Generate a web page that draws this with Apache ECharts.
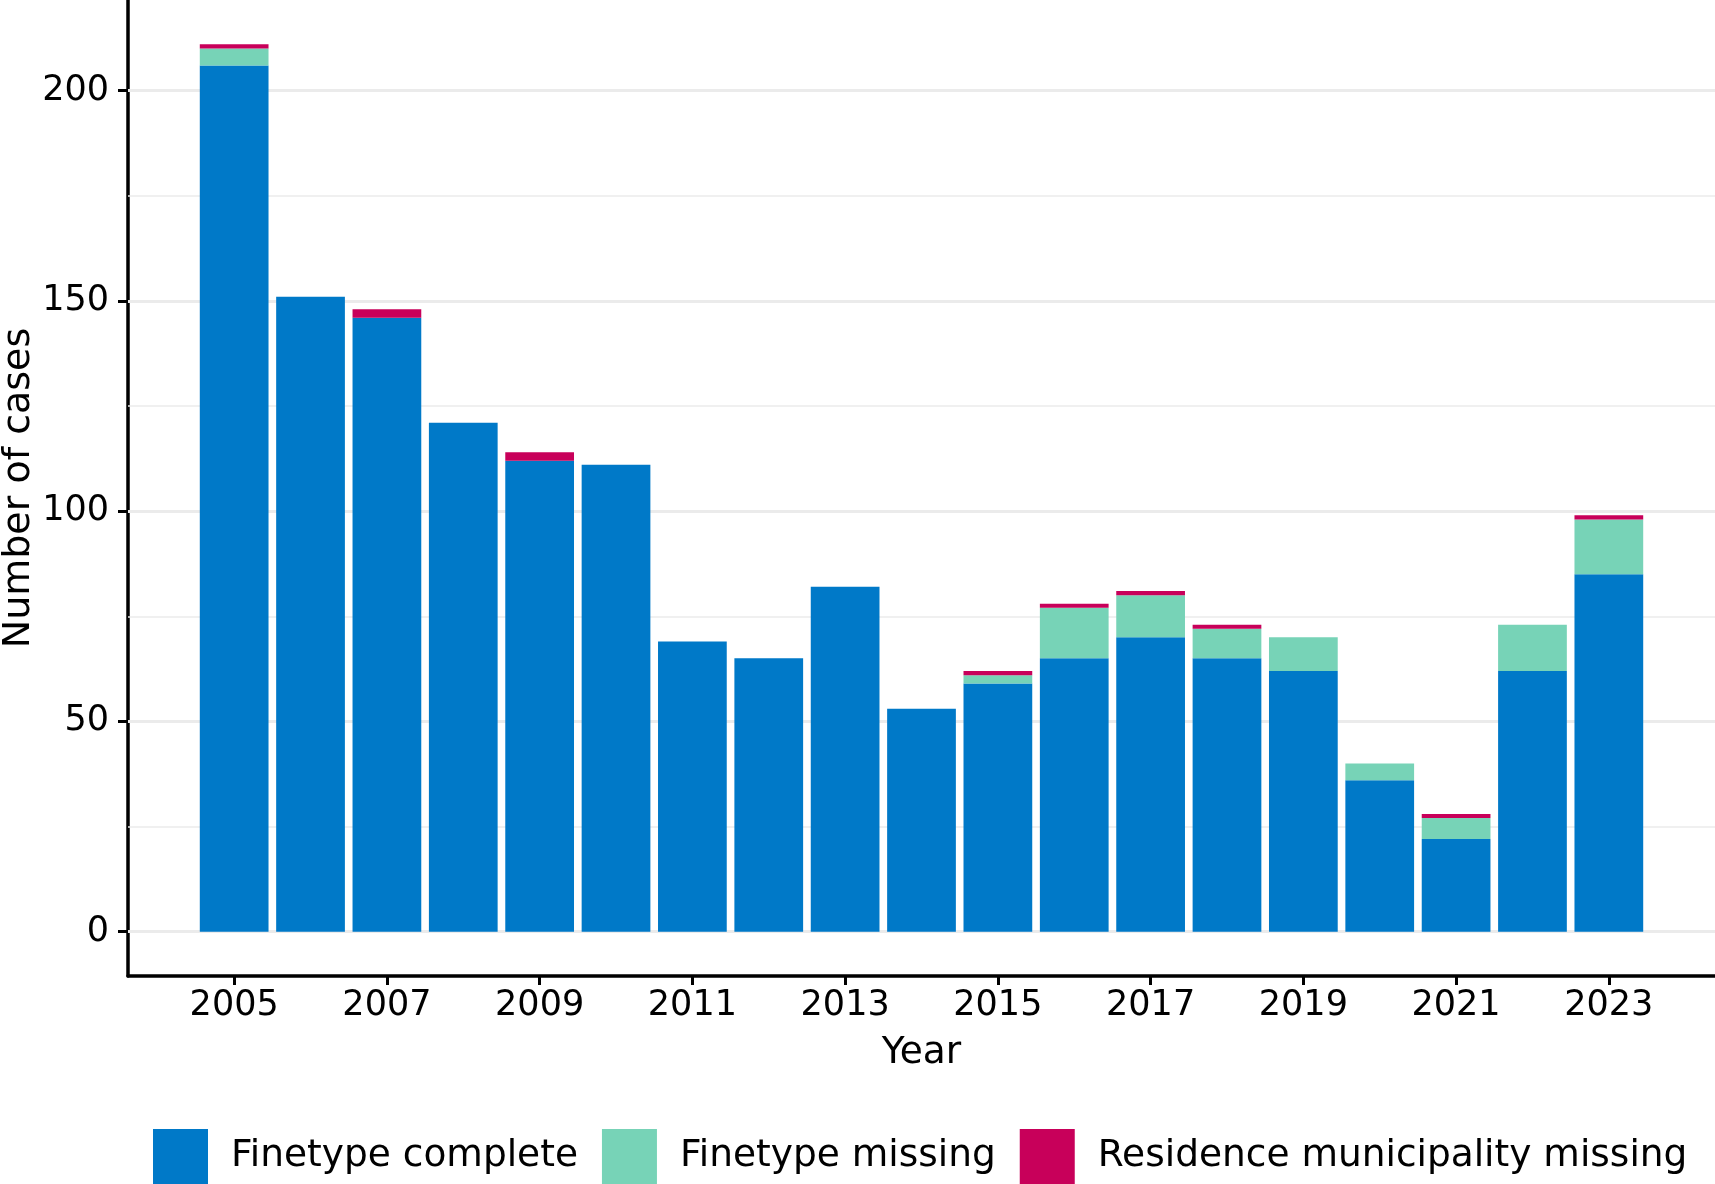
<!DOCTYPE html>
<html lang="en">
<head>
    <meta charset="utf-8">
    <title>Number of cases by year</title>
    <script src="https://cdn.jsdelivr.net/npm/echarts@6/dist/echarts.min.js"></script>
</head>
<body style="margin:0;background:#fff;">
<div id="main" style="width:1715px;height:1184px;"></div>

<script type="text/javascript">
    // data
    var years = [2005, 2006, 2007, 2008, 2009, 2010, 2011, 2012, 2013, 2014,
                 2015, 2016, 2017, 2018, 2019, 2020, 2021, 2022, 2023];
    var finetypeComplete = [206, 151, 146, 121, 112, 111, 69, 65, 82, 53,
                            59, 65, 70, 65, 62, 36, 22, 62, 85];
    var finetypeMissing  = [4, 0, 0, 0, 0, 0, 0, 0, 0, 0,
                            2, 12, 10, 7, 8, 4, 5, 11, 13];
    var residenceMissing = [1, 0, 2, 0, 2, 0, 0, 0, 0, 0,
                            1, 1, 1, 1, 0, 0, 1, 0, 1];

    var xTicks = [2005, 2007, 2009, 2011, 2013, 2015, 2017, 2019, 2021, 2023];
    var yTicks = [0, 50, 100, 150, 200];
    var yMinorTicks = [25, 75, 125, 175];

    var seriesNames = ['Finetype complete', 'Finetype missing', 'Residence municipality missing'];
    var seriesColors = ['#0079C8', '#77D3B7', '#C8005A'];

    var font = 'DejaVu Sans';

    // [value, year] so the value dimension is the one that gets stacked
    function pairs(vals) {
        return years.map(function (y, i) { return [vals[i], y]; });
    }

    var gridLines = yTicks.map(function (v) {
        return { yAxis: v, lineStyle: { width: 3, color: '#EBEBEB', type: 'solid' } };
    }).concat(yMinorTicks.map(function (v) {
        return { yAxis: v, lineStyle: { width: 1.5, color: '#EBEBEB', type: 'solid' } };
    }));

    var myChart = echarts.init(document.getElementById('main'));

    myChart.setOption({
        animation: false,
        backgroundColor: '#fff',
        grid: { left: 128, right: 0, top: 0, bottom: 208, outerBoundsMode: 'none', containLabel: false },
        legend: {
            data: seriesNames,
            left: 153,
            top: 1129,
            padding: 0,
            icon: 'rect',
            itemWidth: 55,
            itemHeight: 55,
            itemGap: 24,
            textStyle: { fontFamily: font, fontSize: 37.5, color: '#000', padding: [2, 0, 0, 18] }
        },
        xAxis: {
            type: 'value',
            min: 2003.61,
            max: 2024.39,
            name: 'Year',
            nameLocation: 'middle',
            nameGap: 58,
            nameMoveOverlap: false,
            nameTextStyle: { fontFamily: font, fontSize: 37.5, color: '#000' },
            axisLine: { onZero: false, lineStyle: { color: '#000', width: 3.5 } },
            axisTick: { customValues: xTicks, length: 9, lineStyle: { color: '#000', width: 3 } },
            axisLabel: {
                customValues: xTicks, margin: 12, fontFamily: font, fontSize: 35, color: '#000',
                formatter: function (v) { return String(v); }
            },
            splitLine: { show: false }
        },
        yAxis: {
            type: 'value',
            min: -10.55,
            max: 221.55,
            name: 'Number of cases',
            nameLocation: 'middle',
            nameGap: 90,
            nameMoveOverlap: false,
            nameTextStyle: { fontFamily: font, fontSize: 38, color: '#000' },
            axisLine: { show: true, onZero: false, lineStyle: { color: '#000', width: 3.5 } },
            axisTick: { show: true, customValues: yTicks, length: 10, lineStyle: { color: '#000', width: 3 } },
            axisLabel: {
                customValues: yTicks, margin: 19, fontFamily: font, fontSize: 35, color: '#000',
                formatter: function (v) { return String(v); }
            },
            splitLine: { show: false }
        },
        series: [{
            name: 'grid',
            type: 'line',
            data: [],
            silent: true,
            z: 1,
            markLine: {
                silent: true,
                symbol: 'none',
                label: { show: false },
                animation: false,
                data: gridLines
            }
        }].concat(seriesNames.map(function (name, i) {
            return {
                name: name,
                type: 'bar',
                stack: 'total',
                barWidth: '90%',
                z: 10,
                encode: { x: 1, y: 0 },
                itemStyle: { color: seriesColors[i] },
                data: pairs([finetypeComplete, finetypeMissing, residenceMissing][i])
            };
        }))
    });
</script>
</body>
</html>
